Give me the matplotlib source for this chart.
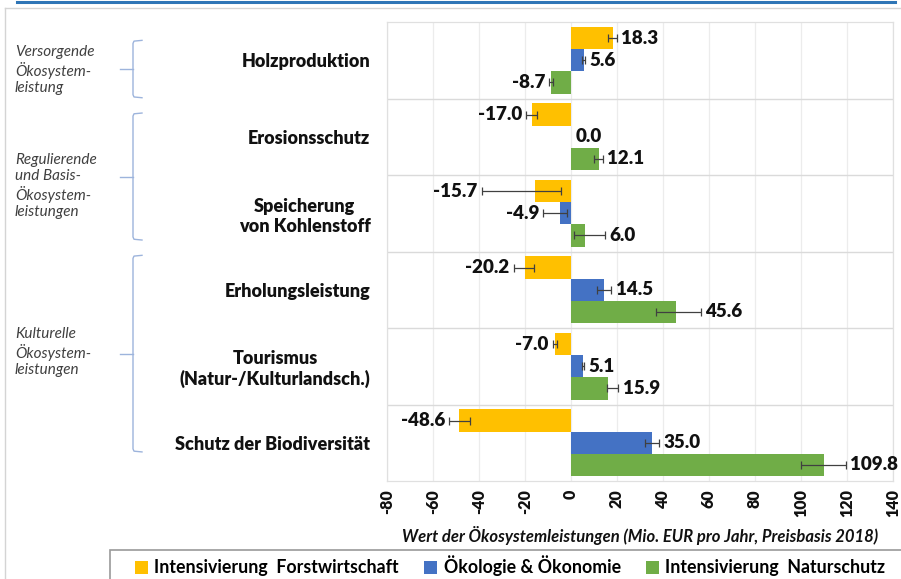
import matplotlib
matplotlib.use("Agg")
import matplotlib.pyplot as plt
import matplotlib.transforms as mtransforms
from matplotlib.lines import Line2D
from matplotlib.patches import Rectangle, Patch
import numpy as np

# ---------------- data ----------------
categories = [
    "Holzproduktion",
    "Erosionsschutz",
    "Speicherung\nvon Kohlenstoff",
    "Erholungsleistung",
    "Tourismus\n(Natur-/Kulturlandsch.)",
    "Schutz der Biodiversität",
]
series_names = [
    "Intensivierung  Forstwirtschaft",
    "Ökologie & Ökonomie",
    "Intensivierung  Naturschutz",
]
forst = [18.3, -17.0, -15.7, -20.2, -7.0, -48.6]
oeko = [5.6, 0.0, -4.9, 14.5, 5.1, 35.0]
natur = [-8.7, 12.1, 6.0, 45.6, 15.9, 109.8]

# error bar ends (low, high)
forst_lo = [16.3, -19.4, -38.8, -25.0, -8.0, -52.9]
forst_hi = [20.0, -14.7, -4.3, -16.3, -6.2, -44.1]
oeko_lo = [4.8, 0.0, -12.0, 11.5, 4.6, 32.0]
oeko_hi = [6.3, 0.0, -1.8, 17.6, 5.6, 38.2]
natur_lo = [-9.5, 10.0, 1.5, 36.9, 15.6, 100.0]
natur_hi = [-7.9, 13.7, 14.7, 56.5, 20.6, 119.4]

xticks = [-80, -60, -40, -20, 0, 20, 40, 60, 80, 100, 120, 140]
xlabel = "Wert der Ökosystemleistungen (Mio. EUR pro Jahr, Preisbasis 2018)"

groups = [
    "Versorgende\nÖkosystem-\nleistung",
    "Regulierende\nund Basis-\nÖkosystem-\nleistungen",
    "Kulturelle\nÖkosystem-\nleistungen",
]
# brace spans in category units (top, bottom)
brace_spans = [(-0.26, 0.49), (0.69, 2.35), (2.55, 5.12)]
group_label_y = [0.13, 1.64, 3.82]

colors = ["#FFC000", "#4472C4", "#70AD47"]

# ---------------- figure ----------------
FONT = "Lato"
plt.rcParams["font.family"] = [FONT, "DejaVu Sans"]
TXT = "#111111"

W, H = 901, 579
fig = plt.figure(figsize=(W / 100, H / 100), dpi=100)
ax = fig.add_axes([387 / W, 1 - 481 / H, (893 - 387) / W, (481 - 22) / H])

n = len(categories)
y = np.arange(n)
bh = 0.29
offsets = [-bh, 0.0, bh]
vals = [forst, oeko, natur]
los = [forst_lo, oeko_lo, natur_lo]
his = [forst_hi, oeko_hi, natur_hi]

for k in range(3):
    v = np.array(vals[k])
    lo = np.array(los[k])
    hi = np.array(his[k])
    yy = y + offsets[k]
    ax.barh(yy, v, height=bh, color=colors[k], zorder=2, label=series_names[k])
    mask = (hi - lo) > 0
    xerr = np.vstack([v - lo, hi - v])
    ax.errorbar(v[mask], yy[mask], xerr=xerr[:, mask], fmt="none",
                ecolor="#404040", elinewidth=0.9, capsize=3, capthick=0.9, zorder=3)
    for i in range(n):
        if v[i] >= 0:
            xend = max(hi[i], v[i])
            ax.annotate(f"{v[i]:.1f}", (xend, yy[i]), xytext=(3, 0),
                        textcoords="offset points", ha="left", va="center",
                        fontsize=13.5, fontweight="heavy", color=TXT, zorder=4)
        else:
            xend = min(lo[i], v[i])
            ax.annotate(f"{v[i]:.1f}", (xend, yy[i]), xytext=(-3, 0),
                        textcoords="offset points", ha="right", va="center",
                        fontsize=13.5, fontweight="heavy", color=TXT, zorder=4)

ax.set_xlim(-80, 140)
ax.set_ylim(n - 0.5, -0.5)
ax.set_xticks(xticks)
ax.set_xticklabels([str(t) for t in xticks], rotation=90, fontsize=11.5,
                   fontweight="heavy", color=TXT)
ax.set_yticks(y)
ax.set_yticklabels(categories, fontsize=13, fontweight="heavy", color=TXT,
                   multialignment="center")
ax.tick_params(axis="y", length=0, pad=12)
ax.tick_params(axis="x", length=0, pad=6)
ax.xaxis.grid(True, color="#ececec", lw=0.9, zorder=0)
for b in np.arange(0.5, n - 0.5, 1.0):
    ax.axhline(b, color="#dadada", lw=1.0, zorder=1)
for s in ax.spines.values():
    s.set_color("#e0e0e0")
    s.set_linewidth(0.9)
ax.set_axisbelow(True)
ax.set_xlabel(xlabel, fontsize=12, fontstyle="italic", fontweight="bold",
              color=TXT, labelpad=6)

# ---------------- decorations ----------------
fig.add_artist(Line2D([17 / W, 895 / W], [1 - 2 / H, 1 - 2 / H], color="#2E75B6", lw=2.2))
fig.add_artist(Line2D([5 / W, 1.0], [1 - 8 / H, 1 - 8 / H], color="#d4d4d4", lw=1.0))
fig.add_artist(Line2D([5 / W, 5 / W], [0, 1 - 8 / H], color="#d4d4d4", lw=1.0))

# braces: x in figure pixels, y in data units
tr = mtransforms.blended_transform_factory(fig.dpi_scale_trans, ax.transData)
px = lambda p: p / 100.0
brace_color = "#9db4dc"
for (t, b), ly, g in zip(brace_spans, group_label_y, groups):
    mid = (t + b) / 2
    fig.add_artist(Line2D([px(142), px(134), px(133), px(133), px(134), px(142)],
                          [t, t + 0.01, t + 0.04, b - 0.04, b - 0.01, b],
                          transform=tr, color=brace_color, lw=1.0))
    fig.add_artist(Line2D([px(133), px(120)], [mid, mid], transform=tr,
                          color=brace_color, lw=1.0))
    fig.text(px(15), ly, g, transform=tr, fontsize=11, fontstyle="italic",
             color="#404040", ha="left", va="center", linespacing=1.2)

# legend box
fig.add_artist(Rectangle((110 / W, -0.02), 0.9, 0.02 + 1 - 550 / H, transform=fig.transFigure,
                         fill=False, edgecolor="#9a9a9a", lw=1.2))
handles = [Patch(facecolor=c, edgecolor="none") for c in colors]
fig.legend(handles, series_names, loc="center", bbox_to_anchor=(510 / W, 1 - 566 / H),
           ncol=3, frameon=False, prop={"size": 12.8, "weight": "bold"},
           handlelength=0.75, handleheight=0.75,
           handletextpad=0.35, columnspacing=1.4, borderpad=0)

fig.savefig("out.png", dpi=100)
